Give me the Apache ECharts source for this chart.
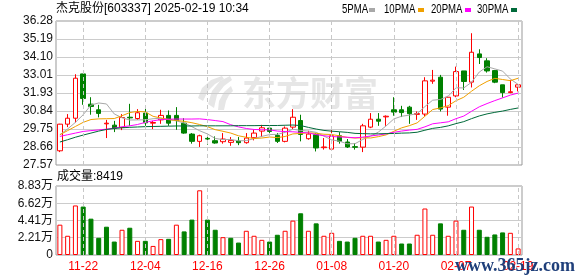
<!DOCTYPE html>
<html><head><meta charset="utf-8">
<script src="https://cdn.jsdelivr.net/npm/echarts@6/dist/echarts.min.js"></script>
<style>html,body{margin:0;padding:0;background:#fff}#c{width:578px;height:276px}</style>
</head><body><div id="c"></div>
<script>
const dates = ['11-19','11-20','11-21','11-22','11-25','11-26','11-27','11-28','11-29','12-02','12-03','12-04','12-05','12-06','12-09','12-10','12-11','12-12','12-13','12-16','12-17','12-18','12-19','12-20','12-23','12-24','12-25','12-26','12-27','12-30','12-31','01-02','01-03','01-06','01-07','01-08','01-09','01-10','01-13','01-14','01-15','01-16','01-17','01-20','01-21','01-22','01-23','01-24','01-27','02-05','02-06','02-07','02-10','02-11','02-12','02-13','02-14','02-17','02-18','02-19'];
const labelDates = ['11-22','12-04','12-16','12-26','01-08','01-20','02-07','02-19'];
const opens = [28.43,30.04,30.40,33.08,31.25,30.91,30.06,29.98,29.84,30.46,
30.38,30.71,30.10,30.30,30.57,30.57,30.10,29.44,29.00,29.18,
29.04,28.98,28.94,29.02,28.92,29.22,29.62,29.80,29.36,29.00,
29.86,30.26,29.16,29.40,28.62,28.53,29.34,28.96,28.68,28.65,
29.86,30.34,30.48,30.91,30.91,31.07,30.63,30.65,32.64,32.88,
31.07,31.75,33.26,32.58,34.29,33.87,33.28,32.42,31.95,32.28];
const closes = [30.04,30.40,32.82,31.59,31.11,30.69,30.10,29.80,30.44,30.42,
30.73,30.12,30.14,30.57,30.10,30.26,29.50,29.00,29.34,29.14,
28.90,29.14,29.06,28.92,29.20,29.50,29.82,29.60,29.00,29.80,
30.46,29.42,29.44,28.60,28.66,29.34,29.00,28.66,28.64,29.94,
30.34,30.22,30.52,30.77,30.74,30.67,30.68,32.66,32.70,30.95,
31.67,33.22,32.62,34.39,34.07,33.26,32.58,31.95,32.00,32.42];
const lows = [28.35,29.86,30.14,31.21,30.61,30.45,29.20,29.56,29.68,29.94,
30.30,29.94,29.74,30.06,29.94,29.70,29.46,28.86,28.66,28.80,
28.86,28.86,28.73,28.77,28.86,29.06,29.26,29.40,28.90,28.94,
29.74,29.00,29.10,28.39,28.50,28.50,28.86,28.60,28.50,28.35,
29.80,29.94,29.94,30.55,30.47,30.06,30.30,30.51,32.48,30.81,
30.55,31.67,32.11,32.26,33.68,33.16,32.52,31.65,31.91,32.02];
const highs = [30.06,30.65,33.06,33.08,31.67,31.21,30.30,30.24,30.65,31.27,
30.95,31.07,30.24,30.91,30.87,31.07,30.40,29.50,29.40,29.40,
29.30,29.50,29.26,29.26,29.50,29.70,30.00,29.90,29.50,29.90,
30.95,30.61,29.64,29.50,29.20,29.76,29.56,29.14,28.90,30.06,
30.71,30.71,30.57,31.67,31.15,31.15,30.81,32.88,33.32,33.02,
31.75,33.52,33.26,35.54,34.57,34.03,33.32,32.42,32.72,32.46];
// volume in 万 (10k)
const volumes = [3.88,2.46,6.34,6.20,4.65,2.20,3.62,1.72,3.23,3.49,
1.81,1.81,1.16,2.03,2.07,3.88,3.02,4.53,8.28,4.53,
3.23,2.28,2.20,1.59,3.10,2.46,1.94,1.72,2.59,3.10,
4.40,5.34,3.10,4.05,2.46,2.84,1.81,1.72,2.20,2.46,
2.46,1.72,1.94,2.46,1.47,1.47,2.59,5.95,2.59,4.05,
2.46,4.40,3.23,6.20,3.23,2.33,2.63,2.89,2.84,0.8419];
// moving-average values for the first days (window reaches before the shown range)
const ma5Head = [29.40,29.75,30.15,30.61];
const ma10Head = [29.40,29.65,29.90,30.15,30.32,30.36,30.37,30.38,30.55];
const ma20Head = [29.30,29.40,29.50,29.60,29.65,29.69,29.74,29.80,29.88,29.94,30.02,30.15,30.24,30.32,30.34,30.35,30.35,30.35,30.36];
const ma30Head = [28.96,29.10,29.25,29.38,29.50,29.62,29.72,29.78,29.82,29.85,29.87,29.89,29.90,29.91,29.92,29.93,29.93,29.93,29.94,29.94,29.94,29.94,29.94,29.95,29.95,29.95,29.96,29.96,29.96];
const priceTicks = ['27.57','28.66','29.75','30.84','31.93','33.01','34.10','35.19','36.28'];
const volTicks = ['0','2.21万','4.41万','6.62万','8.83万'];
const maNames = ['5PMA','10PMA','20PMA','30PMA'];
const titleText = '杰克股份[603337] 2025-02-19 10:34';
const volTitle = '成交量:8419';

function ma(n, head) {
  return closes.map((c, i) => {
    if (i < n - 1) return head[i];
    let s = 0;
    for (let k = i - n + 1; k <= i; k++) s += closes[k];
    return +(s / n).toFixed(3);
  });
}
const maData = [ma(5, ma5Head), ma(10, ma10Head), ma(20, ma20Head), ma(30, ma30Head)];
const maColors = ['#a8a8a8', '#f0a000', '#ff00ff', '#006a3a'];

const pVals = priceTicks.map(parseFloat);
const vVals = volTicks.map(parseFloat);
const candles = dates.map((d, i) => [opens[i], closes[i], lows[i], highs[i]]);
const volData = volumes.map((v, i) => {
  const up = i === 0 ? true : closes[i] >= closes[i - 1];
  return { value: v, itemStyle: up ? { color: '#fff', borderColor: '#ff0000', borderWidth: 1 } : { color: '#008000', borderColor: '#008000', borderWidth: 1 } };
});

const FONT = '"Liberation Sans","Noto Sans CJK SC",sans-serif';
const dashLines = labelDates.map(d => ({ xAxis: d }));
const markLineCfg = { silent: true, symbol: ['none', 'none'], label: { show: false }, animation: false,
  lineStyle: { color: '#c8c8c8', type: [4, 3], width: 1 }, data: dashLines };

const chart = echarts.init(document.getElementById('c'), null, { renderer: 'canvas' });
const legendX = [342, 384, 431, 477];
const rectX = [369, 418, 465, 511];
const wm = '#e6e6e6';
const graphic = [
  { type: 'text', x: 56, y: 9, z: 10, style: { text: titleText, font: '12px ' + FONT, fill: '#000', textVerticalAlign: 'middle' } },
  { type: 'text', x: 57, y: 177, z: 10, style: { text: volTitle, font: '12px ' + FONT, fill: '#000', textVerticalAlign: 'middle' } },
  { type: 'text', x: 242, y: 93, z: -10, style: { text: '东方财富', font: 'bold 34px "Noto Sans CJK SC"', fill: wm, textVerticalAlign: 'middle' } },
  { type: 'polygon', z: -10, shape: { points: [[230,76],[220,81],[212,91],[208,104],[214,108],[217,95],[224,86],[232,80]] }, style: { fill: wm } },
  { type: 'polygon', z: -10, shape: { points: [[231,86],[224,92],[219,101],[218,110],[224,110],[226,101],[229,95],[233,91]] }, style: { fill: wm } },
  { type: 'polygon', z: -10, shape: { points: [[222,76],[211,80],[202,88],[198,98],[203,101],[208,91],[215,84],[224,79]] }, style: { fill: wm } },
  { type: 'text', x: 455, y: 266, z: 100, style: { text: 'www.365jz.com', font: 'bold 18px "Liberation Serif"', fill: '#1f3f7a', textVerticalAlign: 'middle' } }
];
maNames.forEach((n, k) => {
  graphic.push({ type: 'text', x: legendX[k], y: 10, scaleX: 0.8, z: 10, style: { text: n, font: '12px ' + FONT, fill: '#000', textVerticalAlign: 'middle' } });
  graphic.push({ type: 'rect', x: rectX[k], y: 8, z: 10, shape: { width: 6, height: 4 }, style: { fill: maColors[k] } });
});

const option = {
  animation: false,
  backgroundColor: '#fff',
  grid: [
    { left: 56, top: 21, width: 466, height: 144, show: true, borderColor: '#999', borderWidth: 1 },
    { left: 56, top: 186, width: 466, height: 69, show: true, borderColor: '#999', borderWidth: 1 }
  ],
  xAxis: [
    { type: 'category', gridIndex: 0, data: dates, boundaryGap: true, axisLine: { show: false }, axisTick: { show: false }, axisLabel: { show: false }, splitLine: { show: false } },
    { type: 'category', gridIndex: 1, data: dates, boundaryGap: true, axisLine: { show: false }, axisTick: { show: false },
      axisLabel: { color: '#ff0000', fontSize: 12, fontFamily: FONT, margin: 6, interval: (i, v) => labelDates.indexOf(v) >= 0 },
      splitLine: { show: false } }
  ],
  yAxis: [
    { type: 'value', gridIndex: 0, min: pVals[0], max: pVals[pVals.length - 1], scale: true,
      axisLine: { show: false }, axisTick: { show: false, customValues: pVals },
      axisLabel: { customValues: pVals, color: '#111', fontSize: 12, fontFamily: FONT, margin: 3,
        formatter: v => priceTicks[pVals.indexOf(v)] !== undefined ? priceTicks[pVals.indexOf(v)] : v.toFixed(2) },
      splitLine: { show: true, lineStyle: { color: '#cccccc', width: 1 } } },
    { type: 'value', gridIndex: 1, min: vVals[0], max: vVals[vVals.length - 1],
      axisLine: { show: false }, axisTick: { show: false, customValues: vVals },
      axisLabel: { customValues: vVals, color: '#111', fontSize: 12, fontFamily: FONT, margin: 3,
        formatter: v => volTicks[vVals.indexOf(v)] !== undefined ? volTicks[vVals.indexOf(v)] : String(v) },
      splitLine: { show: true, lineStyle: { color: '#cccccc', width: 1 } } }
  ],
  graphic: graphic,
  series: [
    { type: 'line', xAxisIndex: 0, yAxisIndex: 0, data: [], z: 1, markLine: markLineCfg },
    { type: 'line', xAxisIndex: 1, yAxisIndex: 1, data: [], z: 1, markLine: markLineCfg },
    { type: 'candlestick', name: 'K', xAxisIndex: 0, yAxisIndex: 0, data: candles, barWidth: 5, z: 2,
      itemStyle: { color: '#ffffff', color0: '#008000', borderColor: '#ff0000', borderColor0: '#008000', borderWidth: 1 } },
    ...maNames.map((n, k) => ({ type: 'line', name: n, xAxisIndex: 0, yAxisIndex: 0, data: maData[k], symbol: 'none', z: 3,
      lineStyle: { color: maColors[k], width: 1 } })),
    { type: 'bar', name: 'VOL', xAxisIndex: 1, yAxisIndex: 1, data: volData, barWidth: 5, z: 2 }
  ]
};
chart.setOption(option);
</script></body></html>
